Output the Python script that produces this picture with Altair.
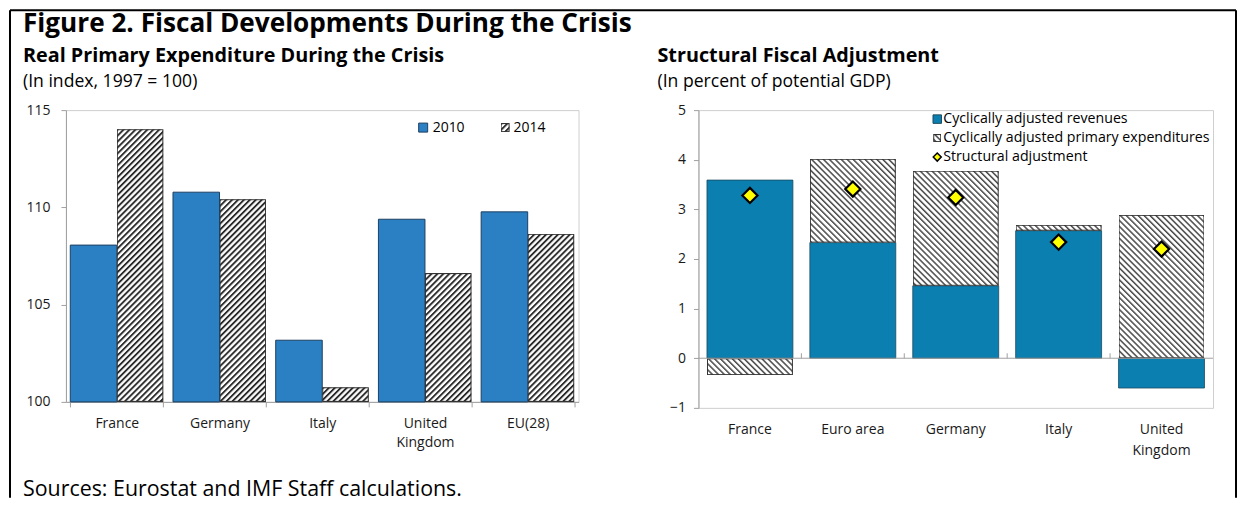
import base64
import altair as alt
import pandas as pd

FONT = "Open Sans"
TXT = "#1a1a1a"
AXIS_GRAY = "#a0a0a0"
BLUE_L = "#2a80c3"
BLUE_R = "#0b7faf"

# ---------------- data: left panel ----------------
left_countries = ["France", "Germany", "Italy", "United Kingdom", "EU(28)"]
years = ["2010", "2014"]
exp_2010 = [108.06, 110.78, 103.17, 109.39, 109.77]
exp_2014 = [114.02, 110.42, 100.75, 106.62, 108.64]
left_ticks = [100, 105, 110, 115]

# ---------------- data: right panel ----------------
right_countries = ["France", "Euro area", "Germany", "Italy", "United Kingdom"]
revenues = [3.59, 2.33, 1.46, 2.57, -0.60]
expenditures = [-0.34, 1.69, 2.32, 0.12, 2.89]
structural = [3.28, 3.41, 3.24, 2.34, 2.20]
right_ticks = [-1, 0, 1, 2, 3, 4, 5]

# ---------------- tables ----------------
left_df = pd.DataFrame({
    "country": left_countries * 2,
    "year": [years[0]] * len(left_countries) + [years[1]] * len(left_countries),
    "value": exp_2010 + exp_2014,
})

rows = []
for c, r, e in zip(right_countries, revenues, expenditures):
    pos, neg = 0.0, 0.0
    for name, v in (("rev", r), ("exp", e)):
        if v >= 0:
            y0, y1 = pos, pos + v
            pos = y1
        else:
            y0, y1 = neg, neg + v
            neg = y1
        rows.append({"country": c, "series": name, "y0": y0, "y1": y1})
right_df = pd.DataFrame(rows)
struct_df = pd.DataFrame({"country": right_countries, "structural": structural})
gap_df = pd.DataFrame({"country": right_countries[1:]})
dummy = pd.DataFrame({"a": [0]})


def hatch_uri(angle, period, line_w, color, stroke):
    svg = (
        "<svg xmlns='http://www.w3.org/2000/svg' width='100%' height='100%'>"
        f"<defs><pattern id='p' width='{period}' height='{period}' patternUnits='userSpaceOnUse' "
        f"patternTransform='rotate({angle})'>"
        f"<rect width='{period}' height='{period}' fill='#ffffff'/>"
        f"<rect width='{line_w}' height='{period}' fill='{color}'/></pattern></defs>"
        f"<rect width='100%' height='100%' fill='url(#p)' stroke='{stroke}' stroke-width='2'/></svg>"
    )
    return "data:image/svg+xml;base64," + base64.b64encode(svg.encode()).decode()


HATCH_L = hatch_uri(45, 4.2, 1.9, "#2b2b2b", "#333333")
HATCH_R = hatch_uri(-45, 4.2, 1.5, "#4a4a4a", "#333333")


def txt(s, x, y, size, bold=False, align="left", baseline="alphabetic"):
    return alt.Chart(pd.DataFrame({"t": [s]})).mark_text(
        align=align, baseline=baseline, fontSize=size, font=FONT,
        fontWeight="bold" if bold else "normal", color="black",
    ).encode(text="t:N", x=alt.value(x), y=alt.value(y))


def rule(x1, y1, x2, y2, color="black", w=2):
    return alt.Chart(dummy).mark_rule(color=color, strokeWidth=w).encode(
        x=alt.value(x1), x2=alt.value(x2), y=alt.value(y1), y2=alt.value(y2)
    )


split_uk = "datum.label == 'United Kingdom' ? ['United', 'Kingdom'] : datum.label"

# ---------------- left panel ----------------
LW, LH = 513, 292
x_left_scale = alt.Scale(domain=left_countries, paddingInner=0.094, paddingOuter=0.042)
xo_scale = alt.Scale(domain=years)
y_left_scale = alt.Scale(domain=[100, 115], nice=False, zero=False)
x_left_axis = alt.Axis(title=None, labelAngle=0, tickBand="extent", tickSize=5,
                       tickColor=AXIS_GRAY, domainColor=AXIS_GRAY, labelPadding=10,
                       labelFontSize=14, labelColor=TXT, labelLineHeight=19,
                       labelExpr=split_uk)
y_left_axis = alt.Axis(title=None, values=left_ticks, grid=False, tickSize=5,
                       tickColor=AXIS_GRAY, domainColor=AXIS_GRAY, labelPadding=11,
                       labelFontSize=14, labelColor=TXT)
x_left = alt.X("country:N", sort=left_countries, scale=x_left_scale, axis=x_left_axis)
y_left = alt.Y("value:Q", scale=y_left_scale, axis=y_left_axis)

left_bars = alt.Chart(left_df).transform_filter(alt.datum.year == years[0]).mark_bar(
    color=BLUE_L, stroke="#1d3f60", strokeWidth=1
).encode(
    x=x_left,
    xOffset=alt.XOffset("year:N", scale=xo_scale),
    y=y_left,
    y2=alt.datum(100),
)

left_hatch = alt.Chart(left_df).transform_filter(alt.datum.year == years[1]).mark_image(
    aspect=False
).encode(
    x=x_left,
    xOffset=alt.XOffset("year:N", scale=xo_scale),
    y=y_left,
    y2=alt.datum(100),
    url=alt.value(HATCH_L),
)

left_leg_sq = alt.Chart(dummy).mark_square(
    size=81, color=BLUE_L, stroke="#1d3f60", strokeWidth=1, opacity=1
).encode(x=alt.value(357.5), y=alt.value(17.5))
left_leg_hatch = alt.Chart(dummy).mark_image(aspect=False).encode(
    x=alt.value(435), x2=alt.value(444), y=alt.value(13), y2=alt.value(22),
    url=alt.value(HATCH_L),
)

left = alt.layer(
    left_bars, left_hatch,
    left_leg_sq, left_leg_hatch,
    txt("2010", 367, 18, 14, baseline="middle"),
    txt("2014", 448, 18, 14, baseline="middle"),
    txt("Figure 2. Fiscal Developments During the Crisis", -43, -78, 26.2, bold=True),
    txt("Real Primary Expenditure During the Crisis", -43, -48, 19.8, bold=True),
    txt("(In index, 1997 = 100)", -43, -23, 17.6),
    txt("Sources: Eurostat and IMF Staff calculations.", -43, 386, 21.4),
    rule(-56, -100, 1171, -100),
    rule(-56, -100, -56, 388),
    rule(1171, -100, 1171, 388),
).properties(width=LW, height=LH)

# ---------------- right panel ----------------
RW, RH = 515, 298
x_right_scale = alt.Scale(domain=right_countries, paddingInner=0.165, paddingOuter=0.083)
y_right_scale = alt.Scale(domain=[-1, 5], nice=False)
x_right_axis = alt.Axis(title=None, labelAngle=0, ticks=False, domain=False,
                        labelPadding=15, labelFontSize=14, labelColor=TXT,
                        labelLineHeight=21, labelExpr=split_uk)
y_right_axis = alt.Axis(title=None, values=right_ticks, grid=False, tickSize=5,
                        tickColor=AXIS_GRAY, domainColor=AXIS_GRAY, labelPadding=8,
                        labelFontSize=14, labelColor=TXT)
x_right = alt.X("country:N", sort=right_countries, scale=x_right_scale, axis=x_right_axis)

right_bars = alt.Chart(right_df).transform_filter(alt.datum.series == "rev").mark_bar(
    color=BLUE_R, stroke="#1d4a5e", strokeWidth=0.8
).encode(
    x=x_right,
    y=alt.Y("y0:Q", scale=y_right_scale, axis=y_right_axis),
    y2="y1:Q",
)

right_hatch = alt.Chart(right_df).transform_filter(alt.datum.series == "exp").mark_image(
    aspect=False
).encode(
    x=x_right,
    y=alt.Y("y0:Q", scale=y_right_scale, axis=y_right_axis),
    y2="y1:Q",
    url=alt.value(HATCH_R),
)

zero_line = alt.Chart(dummy).mark_rule(color=AXIS_GRAY, strokeWidth=1).encode(
    y=alt.Y(datum=0, scale=y_right_scale, axis=y_right_axis)
)

# small category-separator ticks sitting on the zero line
zero_ticks = alt.Chart(gap_df).mark_rule(color=AXIS_GRAY, strokeWidth=1, xOffset=-8.5).encode(
    x=alt.X("country:N", sort=right_countries, scale=x_right_scale, axis=x_right_axis,
            bandPosition=0),
    y=alt.Y(datum=0, scale=y_right_scale, axis=y_right_axis),
    y2=alt.datum(0.1),
)

diamonds = alt.Chart(struct_df).mark_point(
    shape="diamond", filled=True, fill="#ffff00", stroke="black", strokeWidth=2.2,
    size=230, opacity=1
).encode(
    x=x_right,
    y=alt.Y("structural:Q", scale=y_right_scale, axis=y_right_axis),
)

r_leg_sq = alt.Chart(dummy).mark_square(
    size=72, color=BLUE_R, stroke="#1d4a5e", strokeWidth=1, opacity=1
).encode(x=alt.value(239), y=alt.value(9))
r_leg_hatch = alt.Chart(dummy).mark_image(aspect=False).encode(
    x=alt.value(235), x2=alt.value(243), y=alt.value(24), y2=alt.value(32),
    url=alt.value(HATCH_R),
)
r_leg_dia = alt.Chart(dummy).mark_point(
    shape="diamond", filled=True, fill="#ffff00", stroke="black", strokeWidth=1.5,
    size=64, opacity=1
).encode(x=alt.value(239), y=alt.value(47))

right = alt.layer(
    right_bars, right_hatch, zero_line, zero_ticks, diamonds,
    r_leg_sq, r_leg_hatch, r_leg_dia,
    txt("Cyclically adjusted revenues", 245, 9, 14.2, baseline="middle"),
    txt("Cyclically adjusted primary expenditures", 245, 28, 14.2, baseline="middle"),
    txt("Structural adjustment", 245, 47, 14.2, baseline="middle"),
    txt("Structural Fiscal Adjustment", -41, -48, 19.8, bold=True),
    txt("(In percent of potential GDP)", -41, -23, 17.6),
).properties(width=RW, height=RH)

chart = alt.hconcat(left, right, spacing=120, bounds="flush", padding=0).configure(
    font=FONT, background="white"
).configure_view(stroke="#cfcfcf", strokeWidth=1).configure_axis(
    labelFont=FONT
)

chart.save("out.html", embed_options={"renderer": "svg", "actions": False})
